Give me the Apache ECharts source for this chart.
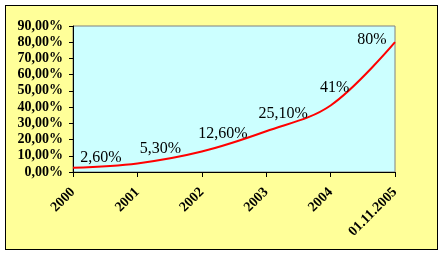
<!DOCTYPE html>
<html>
<head>
<meta charset="utf-8">
<script src="https://cdn.jsdelivr.net/npm/echarts@6/dist/echarts.min.js"></script>
<style>
    html, body { margin: 0; padding: 0; background: #fff; }
    #frame {
        position: absolute; left: 5px; top: 5px; width: 431px; height: 243px;
        border: 1px solid #000; background: #FFFF99;
    }
    #chart { position: absolute; left: 0; top: 0; width: 443px; height: 256px; }
</style>
</head>
<body>
<div id="frame"></div>
<div id="chart"></div>
<script>
// data
const categories = ['2000', '2001', '2002', '2003', '2004', '01.11.2005'];
const values = [2.6, 5.3, 12.6, 25.1, 41, 80];
const valueLabels = ['2,60%', '5,30%', '12,60%', '25,10%', '41%', '80%'];
const yTicks = [0, 10, 20, 30, 40, 50, 60, 70, 80, 90];

// label offsets from the point (px)
const labelOffsets = [[28, -10], [23, -15], [21, -18], [17, -17], [4, -18], [-23, -2]];

const serif = '"Liberation Serif", "Times New Roman", serif';
const symSize = 2;

const myChart = echarts.init(document.getElementById('chart'));
myChart.setOption({
    backgroundColor: 'transparent',
    animation: false,
    grid: {
        left: 73,
        right: 48,
        top: 26,
        bottom: 84,
        show: true,
        backgroundColor: '#CCFFFF',
        borderColor: '#808080',
        borderWidth: 1,
    },
    xAxis: {
        type: 'category',
        data: categories,
        boundaryGap: false,
        axisLine: { lineStyle: { color: '#000', width: 1 } },
        axisTick: { show: true, length: 5, lineStyle: { color: '#000' } },
        axisLabel: {
            rotate: 45,
            margin: 18,
            color: '#000',
            fontFamily: serif,
            fontWeight: 'bold',
            fontSize: 14,
            interval: 0,
        },
        splitLine: { show: false },
    },
    yAxis: {
        type: 'value',
        min: yTicks[0],
        max: yTicks[yTicks.length - 1],
        interval: 10,
        axisLine: { show: true, lineStyle: { color: '#000', width: 1 } },
        axisTick: { show: true, length: 4, lineStyle: { color: '#000' } },
        axisLabel: {
            margin: 10,
            color: '#000',
            fontFamily: serif,
            fontWeight: 'bold',
            fontSize: 14,
            formatter: (v) => v.toFixed(2).replace('.', ',') + '%',
        },
        splitLine: { show: false },
    },
    series: [
        {
            type: 'line',
            smooth: 0.35,
            symbol: 'circle',
            symbolSize: symSize,
            itemStyle: { color: 'rgba(0,0,0,0)', borderWidth: 0 },
            lineStyle: { color: '#FF0000', width: 2 },
            labelLayout: { hideOverlap: false },
            data: values.map((v, i) => ({
                value: v,
                label: {
                    show: true,
                    position: [labelOffsets[i][0] + symSize / 2, labelOffsets[i][1] + symSize / 2],
                    formatter: valueLabels[i],
                },
            })),
            label: {
                color: '#000',
                fontFamily: serif,
                fontSize: 16,
                align: 'center',
                verticalAlign: 'middle',
            },
        },
    ],
});
</script>
</body>
</html>
